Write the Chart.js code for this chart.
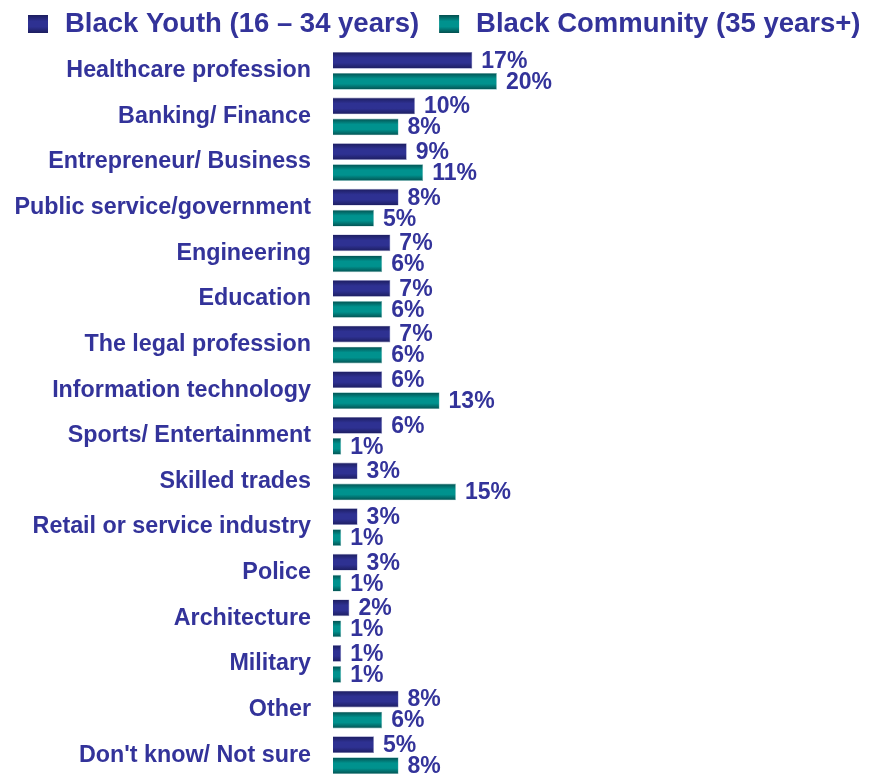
<!DOCTYPE html>
<html>
<head>
<meta charset="utf-8">
<script src="https://cdn.jsdelivr.net/npm/chart.js@4.4.1/dist/chart.umd.min.js"></script>
<style>
  html, body { margin: 0; padding: 0; background: #fff; }
  #wrap { width: 869px; height: 778px; }
</style>
</head>
<body>
<div id="wrap"><canvas id="careers"></canvas></div>
<script>
const categories = [
    'Healthcare profession', 'Banking/ Finance', 'Entrepreneur/ Business',
    'Public service/government', 'Engineering', 'Education',
    'The legal profession', 'Information technology', 'Sports/ Entertainment',
    'Skilled trades', 'Retail or service industry', 'Police',
    'Architecture', 'Military', 'Other', "Don't know/ Not sure"
];
const youth = [17, 10, 9, 8, 7, 7, 7, 6, 6, 3, 3, 3, 2, 1, 8, 5];
const community = [20, 8, 11, 5, 6, 6, 6, 13, 1, 15, 1, 1, 1, 1, 6, 8];
const seriesNames = ['Black Youth (16 \u2013 34 years)', 'Black Community (35 years+)'];

const textColor = '#33339a';
const FONT = '"Liberation Sans", Arial, sans-serif';
const CAT_PCT = 0.92;
const BAR_PCT = 0.8;

// shaded fill: dark edges, lighter middle
function shade(ctx2d, y0, y1, dark, mid) {
    const g = ctx2d.createLinearGradient(0, y0, 0, y1);
    g.addColorStop(0, dark);
    g.addColorStop(0.35, mid);
    g.addColorStop(0.65, mid);
    g.addColorStop(1, dark);
    return g;
}

function barShade(dark, mid) {
    return function (ctx) {
        const chart = ctx.chart;
        const y = chart.scales.y;
        if (!y || ctx.type !== 'data') return mid;
        const band = (y.bottom - y.top) / categories.length;
        const slot = band * CAT_PCT / 2;
        const center = y.getPixelForValue(ctx.dataIndex) + (ctx.datasetIndex === 0 ? -slot / 2 : slot / 2);
        const h = slot * BAR_PCT;
        if (!isFinite(center) || !isFinite(h) || h <= 0) return mid;
        return shade(chart.ctx, center - h / 2, center + h / 2, dark, mid);
    };
}

const palette = [
    { dark: '#1c1d5e', mid: '#2e3192', edge: '#8a8cc0' },
    { dark: '#044f4f', mid: '#00928e', edge: '#7fbcbc' }
];

const valueLabels = {
    id: 'valueLabels',
    afterDatasetsDraw(chart) {
        const ctx = chart.ctx;
        ctx.save();
        ctx.font = 'bold 23px ' + FONT;
        ctx.fillStyle = textColor;
        ctx.textBaseline = 'middle';
        ctx.textAlign = 'left';
        chart.data.datasets.forEach((ds, i) => {
            chart.getDatasetMeta(i).data.forEach((bar, j) => {
                ctx.fillText(ds.data[j] + '%', bar.x + 9, bar.y + 1);
            });
        });
        ctx.restore();
    }
};

// legend row across the top
const topLegend = {
    id: 'topLegend',
    afterDraw(chart) {
        const ctx = chart.ctx;
        ctx.save();
        ctx.font = 'bold 27.5px ' + FONT;
        ctx.textBaseline = 'middle';
        ctx.textAlign = 'left';
        let x = 28;
        const cy = 24;
        seriesNames.forEach((name, i) => {
            const p = palette[i];
            ctx.fillStyle = shade(ctx, cy - 9, cy + 9, p.dark, p.mid);
            ctx.fillRect(x, cy - 9, 20, 18);
            x += 20 + 17;
            ctx.fillStyle = textColor;
            ctx.fillText(name, x, cy);
            x += ctx.measureText(name).width + 20;
        });
        ctx.restore();
    }
};

new Chart(document.getElementById('careers'), {
    type: 'bar',
    data: {
        labels: categories,
        datasets: [
            {
                label: seriesNames[0],
                data: youth,
                backgroundColor: barShade(palette[0].dark, palette[0].mid),
                borderColor: palette[0].edge,
                borderWidth: 0.6,
                categoryPercentage: CAT_PCT,
                barPercentage: BAR_PCT
            },
            {
                label: seriesNames[1],
                data: community,
                backgroundColor: barShade(palette[1].dark, palette[1].mid),
                borderColor: palette[1].edge,
                borderWidth: 0.6,
                categoryPercentage: CAT_PCT,
                barPercentage: BAR_PCT
            }
        ]
    },
    options: {
        indexAxis: 'y',
        responsive: true,
        maintainAspectRatio: false,
        animation: false,
        layout: { padding: { left: 0, right: 0, top: 48, bottom: 0 } },
        scales: {
            x: {
                display: false,
                min: 0,
                max: 65.4
            },
            y: {
                grid: { display: false, drawTicks: false },
                border: { display: false },
                ticks: {
                    color: textColor,
                    padding: 22,
                    font: { family: FONT, size: 23.3, weight: 'bold' }
                },
                afterFit(scale) {
                    scale.width = 333;
                    scale.paddingTop = 0;
                    scale.paddingBottom = 0;
                }
            }
        },
        plugins: {
            tooltip: { enabled: false },
            legend: { display: false }
        }
    },
    plugins: [valueLabels, topLegend]
});
</script>
</body>
</html>
